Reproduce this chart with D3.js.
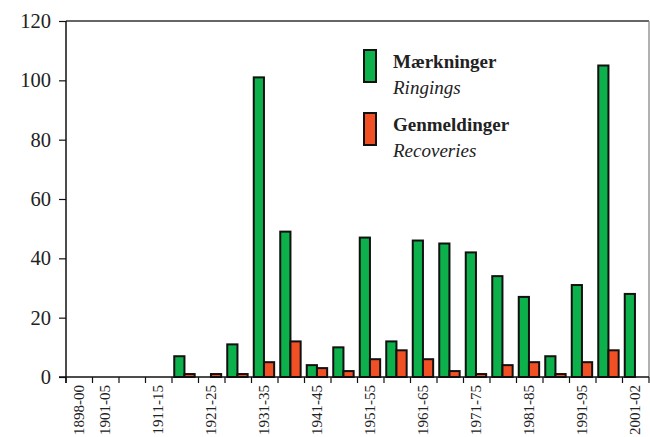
<!DOCTYPE html>
<html>
<head>
<meta charset="utf-8">
<script src="https://cdn.jsdelivr.net/npm/d3@7"></script>
<style>
  html, body { margin: 0; padding: 0; background: #fff; }
  svg { display: block; }
  text { font-family: "Liberation Serif", "DejaVu Serif", serif; fill: #222; }
</style>
</head>
<body>
<svg id="chart" width="650" height="437"></svg>
<script>
const categories = ["1898-00","1901-05","1906-10","1911-15","1916-20","1921-25","1926-30","1931-35","1936-40","1941-45","1946-50","1951-55","1956-60","1961-65","1966-70","1971-75","1976-80","1981-85","1986-90","1991-95","1996-00","2001-02"];
const shownLabels = ["1898-00","1901-05","1911-15","1921-25","1931-35","1941-45","1951-55","1961-65","1971-75","1981-85","1991-95","2001-02"];
const ringings   = [0,0,0,0,7,0,11,101,49,4,10,47,12,46,45,42,34,27,7,31,105,28];
const recoveries = [0,0,0,0,1,1,1,5,12,3,2,6,9,6,2,1,4,5,1,5,9,0];
const yTicks = [0,20,40,60,80,100,120];
const seriesNames = ["Mærkninger","Genmeldinger"];
const seriesSub = ["Ringings","Recoveries"];
const colors = ["#0db14b","#f15025"];

const svg = d3.select("#chart");
const mLeft = 66, mRight = 649, mTop = 21, mBottom = 377;

const x0 = d3.scaleBand().domain(categories).range([mLeft, mRight]).paddingInner(0).paddingOuter(0);
const step = x0.step();
const x1 = d3.scaleBand().domain(["g","r"]).range([step*0.085, step*0.855]).padding(0);
const y = d3.scaleLinear().domain([0,120]).range([mBottom, mTop]);

// frame top & right
svg.append("line").attr("x1", mLeft).attr("x2", mRight).attr("y1", mTop).attr("y2", mTop)
  .attr("stroke", "#333").attr("stroke-width", 1.3);
svg.append("line").attr("x1", mRight).attr("x2", mRight).attr("y1", mTop).attr("y2", mBottom)
  .attr("stroke", "#888").attr("stroke-width", 1.3);

// bars
const data = categories.map((c,i) => ({c, vals:[{k:"g", v:ringings[i], col:colors[0]},{k:"r", v:recoveries[i], col:colors[1]}]}));
const groups = svg.append("g").selectAll("g").data(data).join("g")
  .attr("transform", d => `translate(${x0(d.c)},0)`);
groups.selectAll("rect").data(d => d.vals.filter(v => v.v > 0)).join("rect")
  .attr("x", d => x1(d.k))
  .attr("width", x1.bandwidth())
  .attr("y", d => y(d.v))
  .attr("height", d => y(0) - y(d.v))
  .attr("fill", d => d.col)
  .attr("stroke", "#111")
  .attr("stroke-width", 2);

// y axis
const yAxis = d3.axisLeft(y).tickValues(yTicks).tickSize(7).tickPadding(8).tickSizeOuter(0);
const gy = svg.append("g").attr("transform", `translate(${mLeft},0)`).call(yAxis);
gy.select(".domain").attr("stroke", "#111").attr("stroke-width", 1.5).attr("d", `M0,${mTop}V${mBottom+6}`);
gy.selectAll(".tick line").attr("stroke", "#111").attr("stroke-width", 1.2);
gy.selectAll(".tick text").attr("font-size", 20.5).attr("font-family", "Liberation Serif").attr("fill", "#222");

// x axis with ticks at category boundaries
const gx = svg.append("g");
gx.append("line").attr("x1", mLeft - 7).attr("x2", mRight).attr("y1", mBottom).attr("y2", mBottom)
  .attr("stroke", "#111").attr("stroke-width", 1.5);
const boundaries = categories.map(c => x0(c)).concat([mRight]);
gx.selectAll("line.bt").data(boundaries).join("line").attr("class","bt")
  .attr("x1", d => d).attr("x2", d => d).attr("y1", mBottom).attr("y2", mBottom + 6)
  .attr("stroke", "#111").attr("stroke-width", 1.2);
gx.selectAll("text").data(shownLabels).join("text")
  .attr("transform", d => `translate(${x0(d) + step/2 - 1},${mBottom + 8}) rotate(-90)`)
  .attr("text-anchor", "end")
  .attr("dy", "0.35em")
  .attr("font-size", 15)
  .text(d => d);

// legend
const leg = svg.append("g");
const legY = [50, 113];
seriesNames.forEach((n,i) => {
  leg.append("rect").attr("x", 364).attr("y", legY[i]).attr("width", 12).attr("height", 32)
    .attr("fill", colors[i]).attr("stroke", "#111").attr("stroke-width", 2);
  leg.append("text").attr("x", 393).attr("y", legY[i] + 18).attr("font-size", 19)
    .attr("font-weight", "bold").text(n);
  leg.append("text").attr("x", 393).attr("y", legY[i] + 44).attr("font-size", 19)
    .attr("font-style", "italic").text(seriesSub[i]);
});
</script>
</body>
</html>
